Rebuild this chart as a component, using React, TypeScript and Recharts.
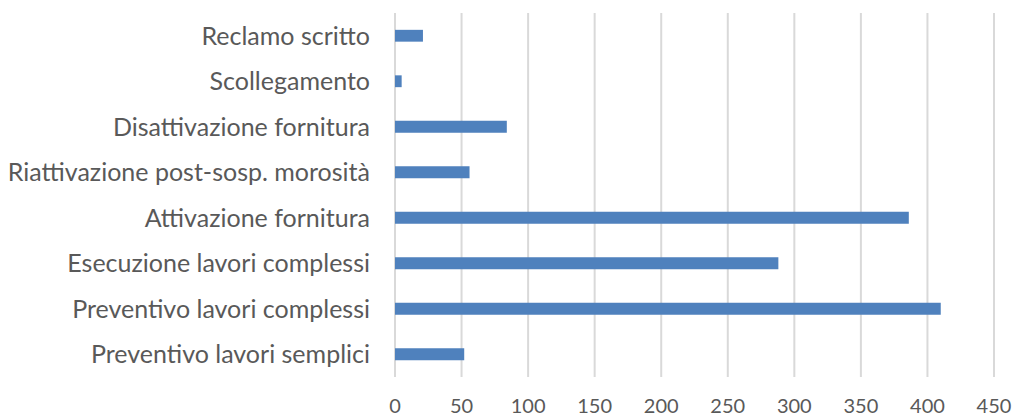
import { BarChart, Bar, XAxis, YAxis, CartesianGrid } from 'recharts';

const categories = [
  'Reclamo scritto',
  'Scollegamento',
  'Disattivazione fornitura',
  'Riattivazione post-sosp. morosità',
  'Attivazione fornitura',
  'Esecuzione lavori complessi',
  'Preventivo lavori complessi',
  'Preventivo lavori semplici',
];
const values = [21, 5, 84, 56, 386, 288, 410, 52];
const xTicks = [0, 50, 100, 150, 200, 250, 300, 350, 400, 450];

const data = categories.map((name, i) => ({ name, value: values[i] }));

const yTickStyle = { fill: '#595959', fontSize: 25, fontFamily: 'Lato, sans-serif' };
const xTickStyle = { fill: '#595959', fontSize: 20, fontFamily: 'Lato, sans-serif' };

export default function App() {
  return (
    <div style={{ position: 'absolute', left: 0, top: 0, background: '#fff' }}>
      <BarChart
        width={1015}
        height={417}
        data={data}
        layout="vertical"
        margin={{ top: 13, right: 21, left: 0, bottom: 0 }}
        barCategoryGap="63%"
      >
        <CartesianGrid horizontal={false} stroke="#d9d9d9" strokeWidth={2} />
        <XAxis
          type="number"
          domain={[0, 450]}
          ticks={xTicks}
          axisLine={false}
          tickLine={false}
          tick={xTickStyle}
          tickMargin={16}
          height={40}
          interval={0}
        />
        <YAxis
          type="category"
          dataKey="name"
          width={395}
          axisLine={false}
          tickLine={false}
          tick={yTickStyle}
          tickMargin={19}
          interval={0}
        />
        <Bar dataKey="value" fill="#4f81bd" isAnimationActive={false} />
      </BarChart>
    </div>
  );
}
